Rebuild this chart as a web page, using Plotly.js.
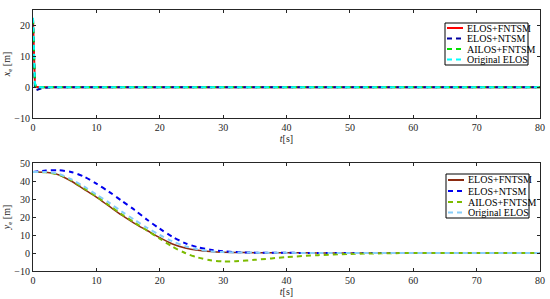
<!DOCTYPE html>
<html>
<head>
<meta charset="utf-8">
<script src="https://cdn.plot.ly/plotly-3.0.1.min.js"></script>
<style>
  html, body { margin: 0; padding: 0; background: #fff; }
  #chart { width: 550px; height: 299px; }
</style>
</head>
<body>
<div id="chart"></div>
<script>
// series names (same four in both panels)
const names = ['ELOS+FNTSM', 'ELOS+NTSM', 'AILOS+FNTSM', 'Original ELOS'];

// top panel: x_e over time (only the first seconds move)
const tTop = [0, 0.1, 0.2, 0.3, 0.45, 0.7, 1.0, 1.5, 2.5, 5, 80];
const xeFntsm = [22, 14, 6, 1.2, 0.1, 0, 0, 0, 0, 0, 0];
const xeNtsm = [22, 13, 4, -0.5, -1.0, -0.9, -0.6, -0.3, -0.1, 0, 0];
const xeAilos = [22, 14, 6, 1.2, 0.1, 0, 0, 0, 0, 0, 0];
const xeOrig = [22.5, 14.5, 7, 1.6, 0.2, 0, 0, 0, 0, 0, 0];

// bottom panel: y_e over time
const tBot = [0, 2, 4, 6, 8, 10, 12, 14, 16, 18, 20, 22, 24, 26, 28, 30, 32, 35, 40, 45, 50, 55, 60, 70, 80];
const yeFntsm = [45, 44.8, 43.5, 40, 35.5, 31, 26, 21, 16.5, 12.5, 8.5, 5, 2.8, 1.5, 0.8, 0.4, 0.3, 0.2, 0.1, 0.05, 0, 0, 0, 0, 0];
const yeNtsm = [45, 45.8, 46, 45, 42.5, 38.5, 34, 29, 24, 18.5, 13.5, 9, 5.5, 3.2, 1.8, 1, 0.5, 0.2, 0.1, 0, 0, 0, 0, 0, 0];
const yeAilos = [45, 44.8, 43.5, 40.5, 36, 31.5, 26.5, 21.5, 17, 12.5, 8, 3.5, 0, -2.5, -4, -4.7, -4.6, -3.8, -2.3, -1.2, -0.5, -0.2, 0, 0, 0];
const yeOrig = [45, 45, 44, 41, 37, 32.5, 28, 23, 18.5, 14, 10, 6.5, 3.8, 2, 1, 0.5, 0.3, 0.2, 0.1, 0, 0, 0, 0, 0, 0];

const topColors = ['#ff0000', '#0000a0', '#00e000', '#00ffff'];
const botColors = ['#8b2a10', '#0000ee', '#7cbb00', '#87cefa'];
const dashes = ['solid', '5px,4px', '5px,4px', '5px,4px'];

const W = 550, H = 299;
const mar = {l: 33, r: 10, t: 10, b: 28};
const plotW = W - mar.l - mar.r, plotH = H - mar.t - mar.b;
// pixel -> paper helpers (used for the hand-made compact legends)
const px = x => (x - mar.l) / plotW;
const py = y => 1 - (y - mar.t) / plotH;

const topY = [xeFntsm, xeNtsm, xeAilos, xeOrig];
const botY = [yeFntsm, yeNtsm, yeAilos, yeOrig];

const traces = [];
names.forEach((n, i) => {
  traces.push({
    x: tTop, y: topY[i], type: 'scatter', mode: 'lines', name: n,
    xaxis: 'x', yaxis: 'y',
    line: {color: topColors[i], width: 2, dash: dashes[i]},
  });
});
names.forEach((n, i) => {
  traces.push({
    x: tBot, y: botY[i], type: 'scatter', mode: 'lines', name: n,
    xaxis: 'x2', yaxis: 'y2',
    line: {color: botColors[i], width: i === 0 ? 1.5 : 2, dash: dashes[i], shape: 'spline', smoothing: 0.8},
  });
});

const font = {family: 'Liberation Serif, Times New Roman, serif', size: 10, color: '#262626'};

function xAxis(anchor) {
  return {
    anchor: anchor, domain: [0, 1], range: [0, 80], dtick: 10,
    ticks: 'inside', ticklen: 3, tickwidth: 1, tickcolor: '#262626',
    showline: true, linecolor: '#262626', linewidth: 1, mirror: 'ticks',
    showgrid: false, zeroline: false, tickfont: font,
    title: {text: '<i>t</i>[s]', font: font, standoff: 1},
  };
}
function yAxis(anchor, domain, range, dtick, label) {
  return {
    anchor: anchor, domain: domain, range: range, dtick: dtick,
    ticks: 'inside', ticklen: 3, tickwidth: 1, tickcolor: '#262626',
    showline: true, linecolor: '#262626', linewidth: 1, mirror: 'ticks',
    showgrid: false, zeroline: false, tickfont: font,
    title: {text: label, font: font, standoff: 1},
  };
}

// compact legends drawn with shapes and annotations
const shapes = [];
const annotations = [];
function legendBox(x0, y0, x1, y1, rows, colors) {
  shapes.push({type: 'rect', xref: 'paper', yref: 'paper',
    x0: px(x0), x1: px(x1), y0: py(y0), y1: py(y1),
    line: {color: '#000', width: 1}, fillcolor: '#fff', layer: 'above'});
  names.forEach((n, i) => {
    shapes.push({type: 'line', xref: 'paper', yref: 'paper',
      x0: px(x0 + 2), x1: px(x0 + 18), y0: py(rows[i]), y1: py(rows[i]),
      line: {color: colors[i], width: 2, dash: i === 0 ? 'solid' : '5px,4px'}, layer: 'above'});
    annotations.push({xref: 'paper', yref: 'paper', x: px(x0 + 20), y: py(rows[i]),
      xanchor: 'left', yanchor: 'middle', text: n, showarrow: false,
      font: {family: font.family, size: 10, color: '#000'}});
  });
}
legendBox(445, 23, 528, 65, [28, 38.5, 49, 59.5], topColors);
legendBox(446, 174, 529, 218, [180, 191, 202, 212.5], botColors);

const layout = {
  width: W, height: H,
  margin: mar,
  paper_bgcolor: '#fff', plot_bgcolor: '#fff',
  showlegend: false,
  font: font,
  xaxis: xAxis('y'),
  yaxis: yAxis('x', [1 - 108 / plotH, 1], [-10, 25], 10, '<i>x</i><sub>e</sub> [m]'),
  xaxis2: xAxis('y2'),
  yaxis2: yAxis('x2', [0, 108 / plotH], [-10, 50], 10, '<i>y</i><sub>e</sub> [m]'),
  shapes: shapes,
  annotations: annotations,
};
layout.yaxis.tickvals = [-10, 0, 10, 20];

Plotly.newPlot('chart', traces, layout, {displayModeBar: false, staticPlot: true});
</script>
</body>
</html>
